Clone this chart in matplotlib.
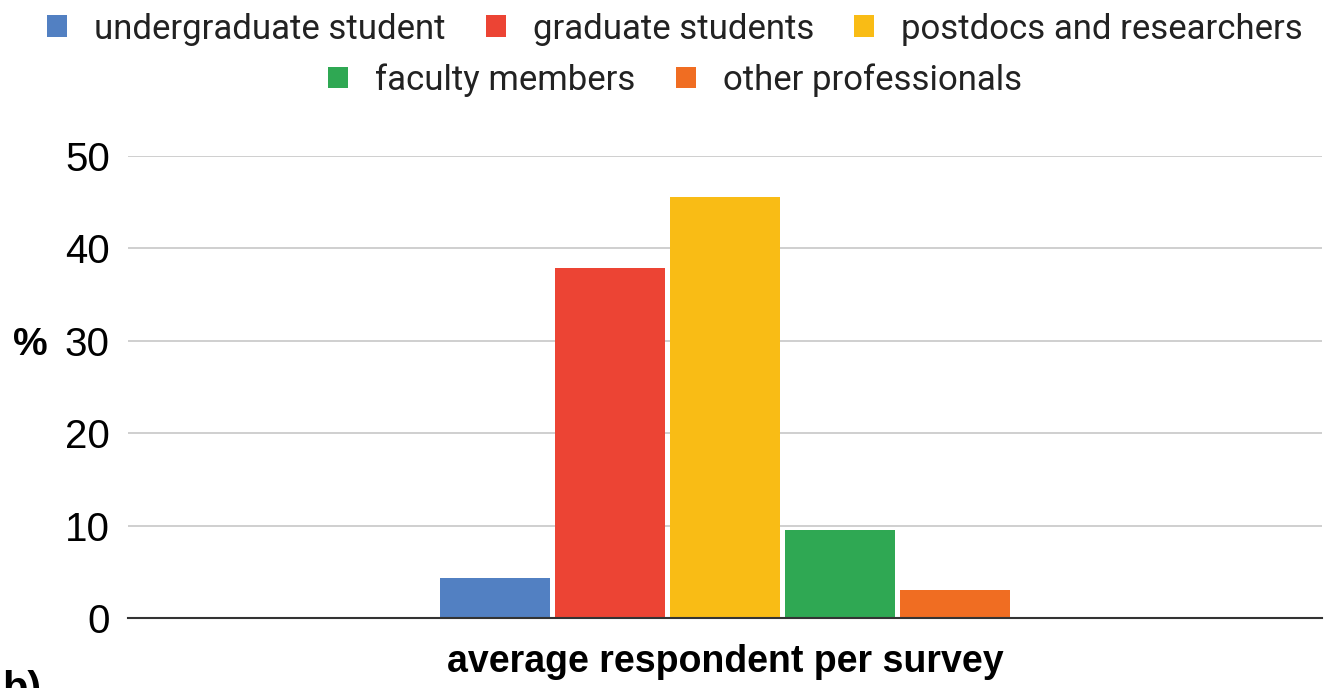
import numpy as np
import matplotlib.pyplot as plt
from matplotlib.patches import Patch

plt.rcParams['font.family'] = ['Liberation Sans', 'DejaVu Sans']

groups = ['undergraduate student', 'graduate students', 'postdocs and researchers',
          'faculty members', 'other professionals']
values = [4.3, 37.9, 45.6, 9.5, 3.0]
colors = ['#5280c2', '#ec4434', '#f9bc15', '#2fa853', '#f06d22']
yticks = [0, 10, 20, 30, 40, 50]

fig = plt.figure(figsize=(13.26, 6.88), dpi=100)
ax = fig.add_axes([128/1326, 1-618/688, (1322-128)/1326, (618-156)/688])

slot = 115/1194
width = 110/1194
pos = (np.arange(len(values)) - (len(values)-1)/2) * slot
ax.bar(pos, values, width=width, color=colors, zorder=3)

ax.set_xlim(-0.5, 0.5)
ax.set_ylim(0, 50)
ax.set_yticks(yticks)
ax.set_yticklabels([str(t) for t in yticks], fontsize=29)
ax.set_xticks([])
ax.tick_params(axis='y', length=0, pad=13)
ax.grid(axis='y', color='#cccccc', linewidth=1.3, zorder=0)
for s in ['top', 'right', 'left']:
    ax.spines[s].set_visible(False)
ax.spines['bottom'].set_color('#333333')
ax.spines['bottom'].set_linewidth(1.5)
ax.spines['bottom'].set_zorder(4)

# axis titles placed like the reference
fig.text(725/1326, 1-662/688, 'average respondent per survey', fontsize=27,
         fontweight='bold', ha='center', va='center')
fig.text(48/1326, 1-345/688, '%', fontsize=28, fontweight='bold', va='center', ha='right')
fig.text(2/1326, 1-670/688, 'b)', fontsize=30, fontweight='bold', va='top', ha='left')

# legend: two centred rows
handles = [Patch(facecolor=c, edgecolor='none') for c in colors]
leg_kw = dict(loc='center', frameon=False, handlelength=0.58, handleheight=0.58,
              handletextpad=0.78, columnspacing=1.15, labelcolor='#222222',
              prop={'family': 'Roboto', 'size': 25})
fig.legend(handles[:3], groups[:3], bbox_to_anchor=(675/1326, 1-29/688), ncol=3, **leg_kw)
fig.legend(handles[3:], groups[3:], bbox_to_anchor=(675/1326, 1-80/688), ncol=2, **leg_kw)

fig.savefig('out.png', dpi=100)
